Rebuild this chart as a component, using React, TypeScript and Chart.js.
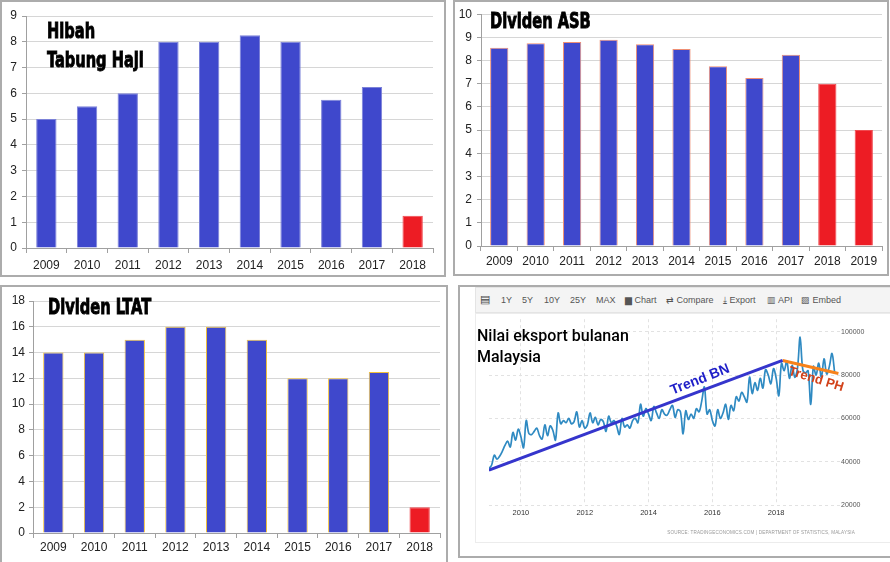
import { useEffect, useRef } from "react"
import { Chart, registerables } from "chart.js"

Chart.register(...registerables)

Chart.defaults.font.family = '"Liberation Sans", Arial, sans-serif'

// Hibah Tabung Haji (%)
const hibahYears = ["2009", "2010", "2011", "2012", "2013", "2014", "2015", "2016", "2017", "2018"]
const hibahValues = [5, 5.5, 6, 8, 8, 8.25, 8, 5.75, 6.25, 1.25]

// Dividen ASB (sen)
const asbYears = ["2009", "2010", "2011", "2012", "2013", "2014", "2015", "2016", "2017", "2018", "2019"]
const asbValues = [8.55, 8.75, 8.8, 8.9, 8.7, 8.5, 7.75, 7.25, 8.25, 7, 5]

// Dividen LTAT (%)
const ltatYears = ["2009", "2010", "2011", "2012", "2013", "2014", "2015", "2016", "2017", "2018"]
const ltatValues = [14, 14, 15, 16, 16, 15, 12, 12, 12.5, 2]

// years drawn in red
const phYears = ["2018", "2019"]

// Nilai eksport bulanan (RM juta), Jan 2009 onwards
const exportStartYear = 2009
const monthlyExports = [
  36800, 38500, 43000, 41200, 42500, 44800, 47500, 49500, 46800, 53500, 50000, 55000, // 2009
  51500, 46500, 59000, 53000, 52500, 54000, 55500, 52000, 50500, 57000, 52000, 56500, // 2010
  54500, 50000, 62500, 57500, 59000, 58000, 60000, 57500, 58500, 63000, 56000, 59000, // 2011
  55500, 57000, 62500, 58000, 60500, 57000, 59500, 58500, 54000, 61000, 58000, 59000, // 2012
  56500, 52500, 60000, 56000, 57000, 55500, 59000, 60000, 58000, 66500, 61000, 64500, // 2013
  62000, 59000, 65500, 62500, 60000, 64000, 62000, 61500, 64000, 66000, 60500, 64000, // 2014
  63000, 52800, 63500, 59500, 62000, 60000, 64500, 63000, 68000, 74500, 62000, 64000, // 2015
  59000, 56500, 64000, 60000, 62500, 66500, 59500, 66000, 63500, 70000, 68000, 72000, // 2016
  70000, 67500, 79000, 71500, 76500, 73000, 78500, 74000, 82500, 80000, 76000, 83000, // 2017
  78500, 70500, 85500, 82000, 86500, 78500, 84500, 79000, 83000, 97500, 82500, 81000, // 2018
  82000, 66500, 84000, 80000, 85500, 79000, 87500, 80500, 84000, 90000, 81000, // 2019
]

const trendBNYears = [2009, 2018.2]
const trendBNValues = [36100, 86750]
const trendPHYears = [2018.2, 2019.95]
const trendPHValues = [86750, 80700]

const exportYearTicks = [2010, 2012, 2014, 2016, 2018]
const exportValueTicks = [20000, 40000, 60000, 80000, 100000]

const blue = "#3f48cc"
const red = "#ed1c24"

interface BarPanelProps {
  years: string[]
  values: number[]
  yMax: number
  yStep: number
  edge: string
  box: { left: number; top: number; width: number; height: number }
  padTop: number
  padRight: number
  yWidth: number
  xHeight: number
  xPad: number
  yPad: number
  title: string[]
  titleLeft: number
  titleTop: number
}

function BarPanel(p: BarPanelProps) {
  const chartRef = useRef<HTMLCanvasElement>(null)

  useEffect(() => {
    if (!chartRef.current) return
    const colors = p.years.map((y) => (phYears.includes(y) ? red : blue))
    const edges = p.years.map((y) => (phYears.includes(y) ? "#f04a50" : p.edge))
    const chart = new Chart(chartRef.current, {
      type: "bar",
      data: {
        labels: p.years,
        datasets: [
          {
            data: p.values,
            backgroundColor: colors,
            borderColor: edges,
            borderWidth: 1,
            barPercentage: 0.5,
            categoryPercentage: 1,
          },
        ],
      },
      options: {
        animation: false,
        responsive: true,
        maintainAspectRatio: false,
        layout: { padding: { top: p.padTop, right: p.padRight, left: 0, bottom: 0 } },
        plugins: { legend: { display: false }, tooltip: { enabled: false } },
        scales: {
          x: {
            grid: { drawOnChartArea: false, tickLength: 5, tickColor: "#a0a0a0" },
            border: { color: "#a0a0a0" },
            ticks: { padding: p.xPad, color: "#222", font: { size: 12 } },
            afterFit: (s) => {
              s.height = p.xHeight
            },
          },
          y: {
            min: 0,
            max: p.yMax,
            ticks: { stepSize: p.yStep, padding: p.yPad, color: "#222", font: { size: 12 } },
            grid: { color: "#d6d6d6", tickLength: 4, tickColor: "#a0a0a0" },
            border: { color: "#a0a0a0" },
            afterFit: (s) => {
              s.width = p.yWidth
            },
          },
        },
      },
    })
    return () => chart.destroy()
  }, [])

  return (
    <div
      style={{
        position: "absolute",
        left: p.box.left,
        top: p.box.top,
        width: p.box.width,
        height: p.box.height,
        border: "2px solid #acacac",
        boxSizing: "border-box",
        background: "#fff",
      }}
    >
      <div style={{ position: "absolute", left: 0, top: 0, right: 0, bottom: 0 }}>
        <canvas ref={chartRef}></canvas>
      </div>
      <div
        style={{
          position: "absolute",
          left: p.titleLeft - p.box.left - 2,
          top: p.titleTop - p.box.top - 2,
          fontFamily: '"DejaVu Sans Condensed", "Liberation Sans Narrow", sans-serif',
          fontWeight: 700,
          fontSize: 22,
          lineHeight: "29px",
          color: "#000",
          WebkitTextStroke: "0.9px #000",
          transform: "scaleX(0.74)",
          transformOrigin: "left top",
          whiteSpace: "nowrap",
        }}
      >
        {p.title.map((t) => (
          <div key={t}>{t}</div>
        ))}
      </div>
    </div>
  )
}

const trendNotes = [
  { text: "Trend BN", x: 2015.61, y: 77850, angle: -21.5, color: "#1f1fc8", size: 14 },
  { text: "Trend PH", x: 2019.25, y: 78000, angle: 17, color: "#d2421a", size: 13 },
]

const trendLabelPlugin = {
  id: "trendLabels",
  afterDatasetsDraw(chart: Chart) {
    const { ctx } = chart
    const xs = chart.scales.x
    const ys = chart.scales.y
    trendNotes.forEach((n) => {
      ctx.save()
      ctx.translate(xs.getPixelForValue(n.x), ys.getPixelForValue(n.y))
      ctx.rotate((n.angle * Math.PI) / 180)
      ctx.font = `bold ${n.size}px "Liberation Sans", Arial, sans-serif`
      ctx.fillStyle = n.color
      ctx.textAlign = "center"
      ctx.textBaseline = "middle"
      ctx.fillText(n.text, 0, 0)
      ctx.restore()
    })
  },
}

function ExportPanel() {
  const chartRef = useRef<HTMLCanvasElement>(null)

  useEffect(() => {
    if (!chartRef.current) return
    const series = monthlyExports.map((v, i) => ({ x: exportStartYear + i / 12, y: v }))
    const bn = trendBNYears.map((x, i) => ({ x, y: trendBNValues[i] }))
    const ph = trendPHYears.map((x, i) => ({ x, y: trendPHValues[i] }))
    const chart = new Chart(chartRef.current, {
      type: "line",
      data: {
        datasets: [
          { data: series, borderColor: "#2f8ac2", borderWidth: 1.7, pointRadius: 0, tension: 0.35, order: 2 },
          { data: bn, borderColor: "#3535cc", borderWidth: 3, pointRadius: 0, order: 1 },
          { data: ph, borderColor: "#f7821a", borderWidth: 3, pointRadius: 0, order: 1 },
        ],
      },
      options: {
        animation: false,
        responsive: true,
        maintainAspectRatio: false,
        layout: { padding: { left: 13, top: 1, right: 20, bottom: 17 } },
        plugins: { legend: { display: false }, tooltip: { enabled: false } },
        scales: {
          x: {
            type: "linear",
            min: 2009,
            max: 2020,
            afterBuildTicks: (axis) => {
              axis.ticks = exportYearTicks.map((value) => ({ value }))
            },
            grid: { color: "#e2e2e2", drawTicks: false },
            border: { display: false, dash: [3, 3] },
            ticks: { padding: 3, color: "#333", font: { size: 7.5 }, callback: (v) => String(v) },
            afterFit: (s) => {
              s.height = 20
            },
          },
          y: {
            position: "right",
            min: 20000,
            max: 105800,
            afterBuildTicks: (axis) => {
              axis.ticks = exportValueTicks.map((value) => ({ value }))
            },
            grid: { color: "#e2e2e2", drawTicks: false },
            border: { display: false, dash: [3, 3] },
            ticks: { padding: 1, color: "#555", font: { size: 7 }, callback: (v) => String(v) },
            afterFit: (s) => {
              s.width = 30
            },
          },
        },
      },
      plugins: [trendLabelPlugin],
    })
    return () => chart.destroy()
  }, [])

  const tool = { position: "absolute" as const, top: 295, fontSize: 9, color: "#555", whiteSpace: "nowrap" as const }

  return (
    <>
      <div
        style={{
          position: "absolute",
          left: 458,
          top: 285,
          width: 440,
          height: 273,
          border: "2px solid #acacac",
          boxSizing: "border-box",
          background: "#fff",
        }}
      />
      <div
        style={{
          position: "absolute",
          left: 475,
          top: 287,
          width: 430,
          height: 26,
          background: "#f4f4f4",
          border: "1px solid #e4e4e4",
          boxSizing: "border-box",
        }}
      />
      <span style={{ ...tool, left: 480, top: 293, fontSize: 11, color: "#444" }}>▤</span>
      <span style={{ ...tool, left: 501 }}>1Y</span>
      <span style={{ ...tool, left: 522 }}>5Y</span>
      <span style={{ ...tool, left: 544 }}>10Y</span>
      <span style={{ ...tool, left: 570 }}>25Y</span>
      <span style={{ ...tool, left: 596 }}>MAX</span>
      <span style={{ ...tool, left: 625 }}>▆ Chart</span>
      <span style={{ ...tool, left: 666 }}>⇄ Compare</span>
      <span style={{ ...tool, left: 723 }}>⤓ Export</span>
      <span style={{ ...tool, left: 767 }}>▥ API</span>
      <span style={{ ...tool, left: 801 }}>▨ Embed</span>
      <div
        style={{
          position: "absolute",
          left: 475,
          top: 313,
          width: 430,
          height: 230,
          border: "1px solid #ececec",
          boxSizing: "border-box",
        }}
      />
      <div style={{ position: "absolute", left: 476, top: 314, width: 414, height: 228 }}>
        <canvas ref={chartRef}></canvas>
      </div>
      <div
        style={{
          position: "absolute",
          left: 477,
          top: 325,
          fontFamily: "Roboto, sans-serif",
          fontWeight: 500,
          fontSize: 16,
          lineHeight: "21px",
          color: "#000",
          whiteSpace: "nowrap",
        }}
      >
        <div>Nilai eksport bulanan</div>
        <div>Malaysia</div>
      </div>
      <div
        style={{
          position: "absolute",
          left: 560,
          width: 295,
          top: 530,
          textAlign: "right",
          fontSize: 4.6,
          letterSpacing: 0.15,
          color: "#999",
          whiteSpace: "nowrap",
        }}
      >
        SOURCE: TRADINGECONOMICS.COM | DEPARTMENT OF STATISTICS, MALAYSIA
      </div>
    </>
  )
}

export default function App() {
  return (
    <div
      style={{
        position: "absolute",
        left: 0,
        top: 0,
        width: 890,
        height: 562,
        overflow: "hidden",
        background: "#fff",
        fontFamily: '"Liberation Sans", Arial, sans-serif',
      }}
    >
      <BarPanel
        years={hibahYears}
        values={hibahValues}
        yMax={9}
        yStep={1}
        edge="#7c82d8"
        box={{ left: 0, top: 0, width: 446, height: 277 }}
        padTop={14}
        padRight={11}
        yWidth={24}
        xHeight={27}
        xPad={5}
        yPad={5}
        title={["Hibah", "Tabung Haji"]}
        titleLeft={47}
        titleTop={16}
      />
      <BarPanel
        years={asbYears}
        values={asbValues}
        yMax={10}
        yStep={1}
        edge="#ef8f74"
        box={{ left: 453, top: 0, width: 436, height: 276 }}
        padTop={11}
        padRight={5}
        yWidth={26}
        xHeight={28}
        xPad={3}
        yPad={5}
        title={["Dividen ASB"]}
        titleLeft={490}
        titleTop={6}
      />
      <BarPanel
        years={ltatYears}
        values={ltatValues}
        yMax={18}
        yStep={2}
        edge="#f2c23a"
        box={{ left: 0, top: 285, width: 448, height: 280 }}
        padTop={14}
        padRight={6}
        yWidth={31}
        xHeight={30}
        xPad={2}
        yPad={4}
        title={["Dividen LTAT"]}
        titleLeft={48}
        titleTop={292}
      />
      <ExportPanel />
    </div>
  )
}
